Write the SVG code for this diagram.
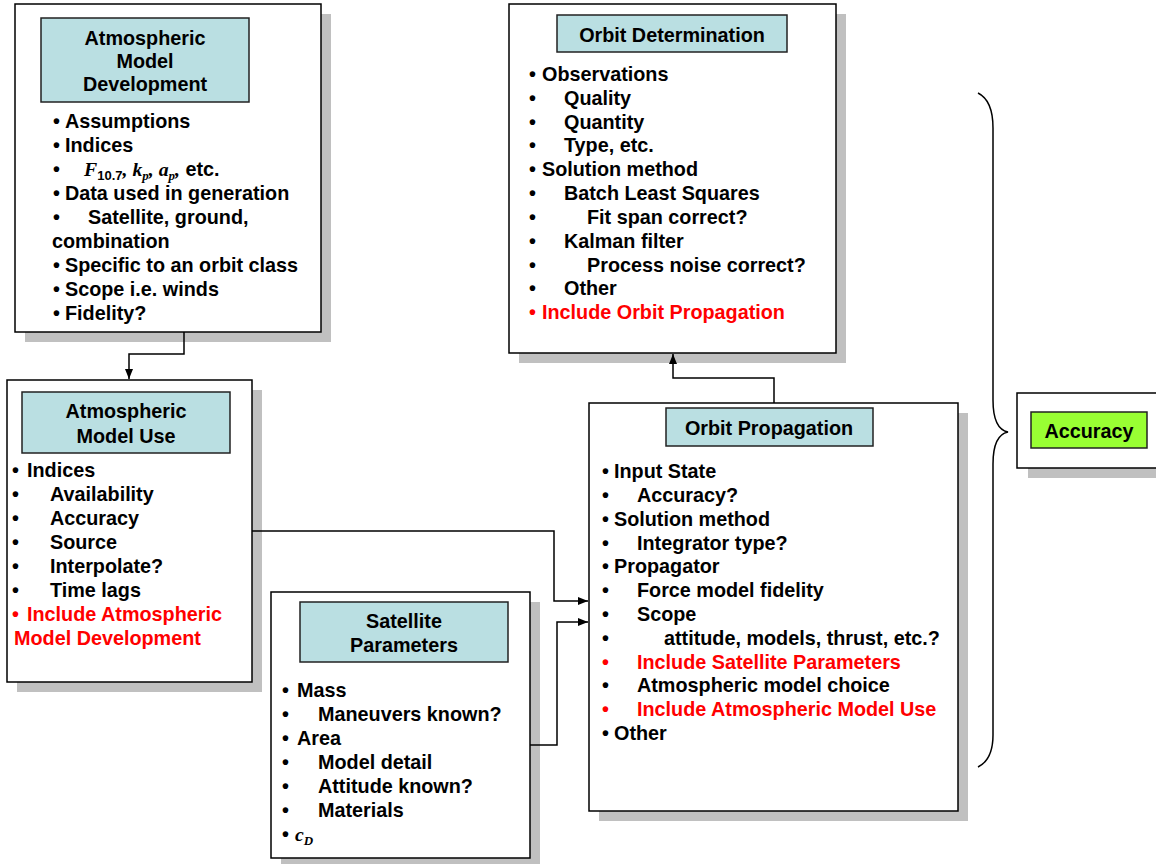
<svg xmlns="http://www.w3.org/2000/svg" width="1156" height="864" viewBox="0 0 1156 864">
<defs>
<style>
.box{fill:#fff;stroke:#000;stroke-width:1.5}
.sh{fill:#c0c0c0}
.hd{fill:#badfe2;stroke:#222;stroke-width:1.5}
.gr{fill:#99ff33;stroke:#222;stroke-width:1.5}
.t{font-family:"Liberation Sans",Arial,sans-serif;font-weight:bold;font-size:19.8px;fill:#000}
.c{text-anchor:middle}
.r{fill:#ff0000}
.m{font-family:"Liberation Serif","Times New Roman",serif;font-style:italic;font-weight:bold}
.sub{font-size:13px}
.ln{fill:none;stroke:#000;stroke-width:1.5}
</style>
<marker id="ah" viewBox="0 0 10 8" refX="10" refY="4" markerWidth="10" markerHeight="8" markerUnits="userSpaceOnUse" orient="auto">
<path d="M0,0 L10,4 L0,8 z" fill="#000"/>
</marker>
</defs>
<rect width="1156" height="864" fill="#fff"/>

<g id="atm-dev">
<rect class="sh" x="25" y="14" width="306" height="328"/>
<rect class="box" x="15" y="4" width="306" height="328"/>
<rect class="hd" x="41" y="18" width="208" height="84"/>
<text class="t c" x="145" y="45">Atmospheric</text>
<text class="t c" x="145" y="68">Model</text>
<text class="t c" x="145" y="91">Development</text>
<text class="t" x="53" y="128">•</text><text class="t" x="65" y="128">Assumptions</text>
<text class="t" x="53" y="152">•</text><text class="t" x="65" y="152">Indices</text>
<text class="t" x="53" y="176">•</text>
<text class="t" x="84" y="176"><tspan class="m">F</tspan><tspan class="sub" dy="4">10.7</tspan><tspan class="m" dy="-4">, k</tspan><tspan class="m sub" dy="4">p</tspan><tspan class="m" dy="-4">, a</tspan><tspan class="m sub" dy="4">p</tspan><tspan class="m" dy="-4">,</tspan> etc.</text>
<text class="t" x="53" y="200">•</text><text class="t" x="65" y="200">Data used in generation</text>
<text class="t" x="53" y="224">•</text><text class="t" x="88" y="224">Satellite, ground,</text>
<text class="t" x="52" y="248">combination</text>
<text class="t" x="53" y="272">•</text><text class="t" x="65" y="272">Specific to an orbit class</text>
<text class="t" x="53" y="296">•</text><text class="t" x="65" y="296">Scope i.e. winds</text>
<text class="t" x="53" y="320">•</text><text class="t" x="65" y="320">Fidelity?</text>
</g>

<g id="atm-use">
<rect class="sh" x="17" y="390" width="245" height="302"/>
<rect class="box" x="7" y="380" width="245" height="302"/>
<rect class="hd" x="22" y="392" width="208" height="61"/>
<text class="t c" x="126" y="418">Atmospheric</text>
<text class="t c" x="126" y="443">Model Use</text>
<text class="t" x="12" y="477">•</text><text class="t" x="27" y="477">Indices</text>
<text class="t" x="12" y="501">•</text><text class="t" x="50" y="501">Availability</text>
<text class="t" x="12" y="525">•</text><text class="t" x="50" y="525">Accuracy</text>
<text class="t" x="12" y="549">•</text><text class="t" x="50" y="549">Source</text>
<text class="t" x="12" y="573">•</text><text class="t" x="50" y="573">Interpolate?</text>
<text class="t" x="12" y="597">•</text><text class="t" x="50" y="597">Time lags</text>
<text class="t r" x="12" y="621">•</text><text class="t r" x="27" y="621">Include Atmospheric</text>
<text class="t r" x="14" y="645">Model Development</text>
</g>

<g id="sat-params">
<rect class="sh" x="281" y="602" width="259" height="266"/>
<rect class="box" x="271" y="592" width="259" height="266"/>
<rect class="hd" x="300" y="602" width="208" height="60"/>
<text class="t c" x="404" y="628">Satellite</text>
<text class="t c" x="404" y="652">Parameters</text>
<text class="t" x="282" y="697">•</text><text class="t" x="297" y="697">Mass</text>
<text class="t" x="282" y="721">•</text><text class="t" x="318" y="721">Maneuvers known?</text>
<text class="t" x="282" y="745">•</text><text class="t" x="297" y="745">Area</text>
<text class="t" x="282" y="769">•</text><text class="t" x="318" y="769">Model detail</text>
<text class="t" x="282" y="793">•</text><text class="t" x="318" y="793">Attitude known?</text>
<text class="t" x="282" y="817">•</text><text class="t" x="318" y="817">Materials</text>
<text class="t" x="282" y="841">•</text><text class="t" x="295" y="841"><tspan class="m">c</tspan><tspan class="m sub" dy="4">D</tspan></text>
</g>

<g id="orbit-det">
<rect class="sh" x="519" y="14" width="327" height="349"/>
<rect class="box" x="509" y="4" width="327" height="349"/>
<rect class="hd" x="557" y="15" width="230" height="37"/>
<text class="t c" x="672" y="42">Orbit Determination</text>
<text class="t" x="529" y="81">•</text><text class="t" x="542" y="81">Observations</text>
<text class="t" x="529" y="105">•</text><text class="t" x="564" y="105">Quality</text>
<text class="t" x="529" y="129">•</text><text class="t" x="564" y="129">Quantity</text>
<text class="t" x="529" y="152">•</text><text class="t" x="564" y="152">Type, etc.</text>
<text class="t" x="529" y="176">•</text><text class="t" x="542" y="176">Solution method</text>
<text class="t" x="529" y="200">•</text><text class="t" x="564" y="200">Batch Least Squares</text>
<text class="t" x="529" y="224">•</text><text class="t" x="587" y="224">Fit span correct?</text>
<text class="t" x="529" y="248">•</text><text class="t" x="564" y="248">Kalman filter</text>
<text class="t" x="529" y="272">•</text><text class="t" x="587" y="272">Process noise correct?</text>
<text class="t" x="529" y="295">•</text><text class="t" x="564" y="295">Other</text>
<text class="t r" x="529" y="319">•</text><text class="t r" x="542" y="319">Include Orbit Propagation</text>
</g>

<g id="orbit-prop">
<rect class="sh" x="599" y="413" width="369" height="408"/>
<rect class="box" x="589" y="403" width="369" height="408"/>
<rect class="hd" x="666" y="408" width="207" height="38"/>
<text class="t c" x="769" y="435">Orbit Propagation</text>
<text class="t" x="602" y="478">•</text><text class="t" x="614" y="478">Input State</text>
<text class="t" x="602" y="502">•</text><text class="t" x="637" y="502">Accuracy?</text>
<text class="t" x="602" y="526">•</text><text class="t" x="614" y="526">Solution method</text>
<text class="t" x="602" y="550">•</text><text class="t" x="637" y="550">Integrator type?</text>
<text class="t" x="602" y="573">•</text><text class="t" x="614" y="573">Propagator</text>
<text class="t" x="602" y="597">•</text><text class="t" x="637" y="597">Force model fidelity</text>
<text class="t" x="602" y="621">•</text><text class="t" x="637" y="621">Scope</text>
<text class="t" x="602" y="645">•</text><text class="t" x="664" y="645">attitude, models, thrust, etc.?</text>
<text class="t r" x="602" y="669">•</text><text class="t r" x="637" y="669">Include Satellite Parameters</text>
<text class="t" x="602" y="692">•</text><text class="t" x="637" y="692">Atmospheric model choice</text>
<text class="t r" x="602" y="716">•</text><text class="t r" x="637" y="716">Include Atmospheric Model Use</text>
<text class="t" x="602" y="740">•</text><text class="t" x="614" y="740">Other</text>
</g>

<g id="accuracy">
<rect class="sh" x="1028" y="403" width="150" height="75"/>
<rect class="box" x="1017" y="393" width="160" height="75"/>
<rect class="gr" x="1031" y="412" width="116" height="36"/>
<text class="t c" x="1089" y="438">Accuracy</text>
</g>

<g id="connectors">
<path class="ln" d="M184,332 V354 H129 V379" marker-end="url(#ah)"/>
<path class="ln" d="M252,531 H554 V601 H588" marker-end="url(#ah)"/>
<path class="ln" d="M530,745 H557 V622 H588" marker-end="url(#ah)"/>
<path class="ln" d="M774,403 V378 H673 V354" marker-end="url(#ah)"/>
<path class="ln" d="M978,93 C988,98 993,110 993,128 V400 C993,420 998,430 1008,432 C998,434 993,444 993,464 V735 C993,752 988,762 978,767"/>
</g>
</svg>
